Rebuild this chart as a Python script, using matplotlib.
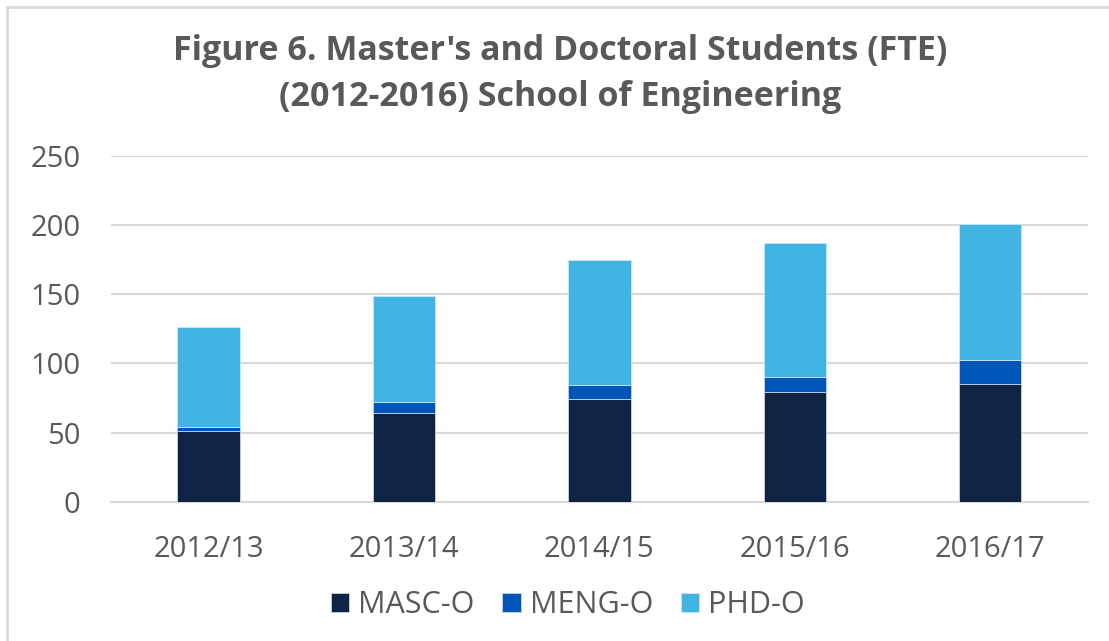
import numpy as np
import matplotlib
matplotlib.use("Agg")
import matplotlib.pyplot as plt
from matplotlib.patches import Rectangle

# data
years = ["2012/13", "2013/14", "2014/15", "2015/16", "2016/17"]
masc = [51, 64, 74.5, 79.5, 85]
meng = [3, 8.5, 10, 11, 17.5]
phd = [72.5, 76.5, 90.5, 96.5, 98]

labels = ["MASC-O", "MENG-O", "PHD-O"]
colors = ["#0f2345", "#0055b8", "#41b4e4"]
grey = "#595959"

plt.rcParams['font.family'] = ['Open Sans', 'DejaVu Sans']

fig = plt.figure(figsize=(11.09, 6.41), dpi=100)
ax = fig.add_axes([0.100, 0.217, 0.881, 0.540])

x = np.arange(len(years))
w = 0.32
b1 = ax.bar(x, masc, w, color=colors[0], edgecolor="#c8d3e6", linewidth=0.6, label=labels[0], zorder=3)
b2 = ax.bar(x, meng, w, bottom=masc, color=colors[1], edgecolor="#c8d3e6", linewidth=0.6, label=labels[1], zorder=3)
bot = np.array(masc) + np.array(meng)
b3 = ax.bar(x, phd, w, bottom=bot, color=colors[2], edgecolor="#c8e8f8", linewidth=0.6, label=labels[2], zorder=3)

ax.set_xlim(-0.5, len(years) - 0.5)
ax.set_ylim(0, 250)
ax.set_yticks(range(0, 251, 50))
ax.set_xticks(x)
ax.set_xticklabels(years)
ax.yaxis.grid(True, color="#d9d9d9", linewidth=1.5, zorder=0)
for s in ["top", "right", "left"]:
    ax.spines[s].set_visible(False)
ax.spines["bottom"].set_color("#d9d9d9")
ax.spines["bottom"].set_linewidth(1.5)
ax.tick_params(axis="both", length=0, labelsize=21, colors=grey)
ax.tick_params(axis="x", pad=24)
ax.tick_params(axis="y", pad=22)

fig.text(0.505, 0.885, "Figure 6. Master's and Doctoral Students (FTE)\n(2012-2016) School of Engineering",
         ha="center", va="center", fontsize=24.5, fontweight="bold", color=grey, linespacing=1.45)

leg = fig.legend(handles=[b1, b2, b3], labels=labels, loc="center", bbox_to_anchor=(0.512, 0.056),
                 ncol=3, frameon=False, fontsize=22, handlelength=0.6, handleheight=0.6,
                 handletextpad=0.3, columnspacing=0.9)
for t in leg.get_texts():
    t.set_color(grey)

fig.patches.append(Rectangle((7 / 1109, -0.1), 1.2, 1.1 - 7 / 641, transform=fig.transFigure,
                             fill=False, edgecolor="#d9d9d9", linewidth=2))

fig.savefig("out.png", dpi=100)
